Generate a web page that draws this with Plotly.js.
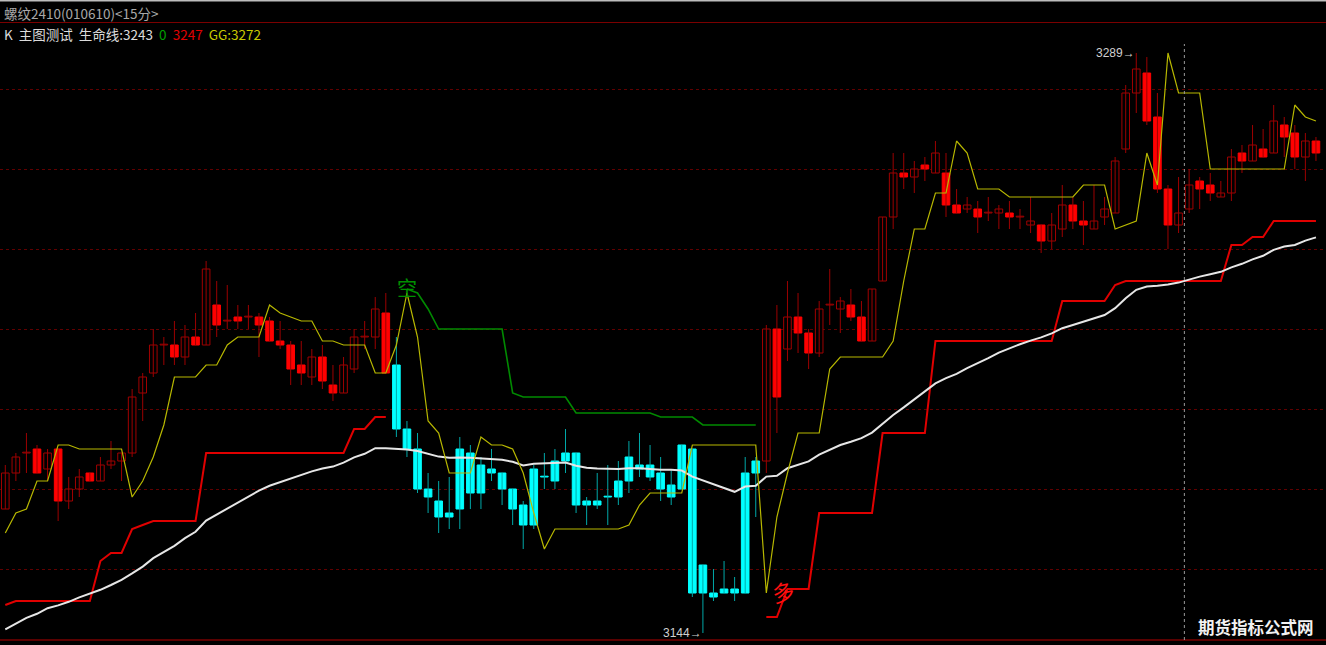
<!DOCTYPE html>
<html><head><meta charset="utf-8">
<script src="https://cdn.plot.ly/plotly-3.0.1.min.js"></script>
<style>html,body{margin:0;padding:0;background:#000;overflow:hidden}</style>
</head><body><div id="chart" style="width:1326px;height:645px"></div>
<script>
// ---- data (15-min bars, rebar 2410) ----
const openP = [
3175,3184,3189,3190,3185,3190,3177,3180,3184,3182,
3186,3187,3189,3204,3209,3216,3216,3213,3218,3216,
3226,3222,3223,3223,3223,3222,3217,3216,3211,3208,
3213,3206,3204,3210,3218,3218,3224,3211,3195,3190,
3180,3177,3174,3175,3189,3179,3185,3184,3180,3176,
3171,3183,3182,3187,3189,3177,3176,3178,3178,3182,
3186,3186,3184,3181,3180,3190,3161,3154,3155,3155,
3154,3184,3187,3220,3215,3223,3219,3214,3226,3225,
3226,3223,3217,3232,3248,3259,3258,3261,3259,3259,
3251,3250,3250,3249,3249,3249,3248,3246,3246,3242,
3245,3251,3247,3245,3248,3249,3265,3279,3284,3273,
3255,3246,3250,3257,3256,3253,3254,3264,3262,3265,
3264,3271,3269,3263,3267];
const highP = [
3186,3189,3194,3191,3190,3190,3183,3185,3184,3188,
3192,3189,3205,3209,3220,3218,3222,3221,3224,3237,
3232,3231,3226,3226,3224,3223,3222,3217,3217,3215,
3216,3211,3213,3220,3222,3228,3229,3218,3197,3194,
3184,3182,3183,3193,3191,3188,3190,3184,3180,3177,
3186,3189,3190,3195,3189,3178,3184,3186,3187,3192,
3194,3191,3188,3185,3191,3190,3161,3160,3162,3158,
3188,3188,3221,3226,3232,3229,3220,3227,3235,3228,
3230,3227,3230,3248,3264,3264,3262,3263,3267,3264,
3255,3253,3252,3253,3251,3252,3250,3253,3246,3249,
3256,3253,3252,3256,3253,3263,3281,3289,3288,3279,
3256,3258,3260,3258,3259,3257,3265,3266,3271,3270,
3276,3273,3271,3269,3268];
const lowP = [
3175,3182,3184,3184,3182,3172,3175,3178,3182,3182,
3185,3182,3188,3197,3208,3211,3211,3211,3216,3216,
3218,3220,3220,3220,3213,3217,3215,3206,3206,3206,
3205,3202,3204,3209,3215,3215,3209,3193,3188,3179,
3174,3169,3170,3170,3175,3175,3182,3176,3171,3165,
3170,3180,3180,3184,3174,3171,3175,3171,3176,3179,
3183,3182,3177,3176,3180,3153,3144,3152,3154,3152,
3154,3173,3184,3194,3212,3214,3210,3213,3221,3219,
3222,3217,3217,3232,3245,3255,3254,3257,3259,3248,
3249,3249,3244,3247,3245,3245,3245,3244,3239,3240,
3243,3245,3241,3245,3246,3249,3264,3274,3271,3254,
3240,3244,3249,3250,3252,3253,3252,3259,3262,3263,
3264,3263,3260,3257,3262];
const closeP = [
3184,3188,3189,3184,3189,3177,3180,3183,3182,3186,
3187,3189,3203,3208,3216,3216,3213,3218,3216,3235,
3221,3222,3222,3223,3221,3217,3216,3210,3209,3213,
3207,3204,3211,3218,3218,3225,3209,3195,3190,3180,
3178,3173,3173,3190,3179,3186,3184,3180,3175,3171,
3185,3183,3187,3189,3176,3176,3177,3178,3182,3188,
3185,3183,3180,3178,3191,3154,3154,3153,3154,3154,
3184,3187,3220,3203,3223,3219,3214,3225,3226,3227,
3223,3217,3230,3248,3259,3258,3260,3260,3264,3251,
3249,3251,3248,3249,3250,3248,3248,3247,3242,3246,
3251,3247,3246,3247,3250,3262,3279,3285,3272,3255,
3246,3249,3256,3255,3254,3254,3263,3262,3266,3263,
3272,3268,3263,3267,3264];
// 生命线 (white)
const lifeLine = [
3144.9,3146.3,3147.8,3148.8,3150.2,3150.9,3151.8,3152.9,3153.8,3154.8,
3156.0,3157.3,3158.9,3160.6,3162.7,3164.3,3165.8,3167.7,3169.3,3172.1,
3173.6,3175.1,3176.7,3178.3,3179.6,3180.8,3181.7,3182.5,3183.4,3184.4,
3185.1,3185.6,3186.6,3187.9,3188.8,3190.2,3190.2,3190.0,3189.9,3189.5,
3188.8,3188.1,3187.8,3187.9,3187.8,3187.6,3187.4,3187.3,3186.8,3185.9,
3186.3,3186.4,3186.4,3186.6,3185.8,3185.3,3185.1,3185.0,3185.0,3185.2,
3185.2,3185.0,3184.8,3184.8,3184.6,3183.1,3182.1,3181.2,3180.3,3179.3,
3180.6,3180.8,3183.1,3183.3,3185.2,3186.0,3186.9,3188.6,3189.8,3191.0,
3191.8,3192.7,3194.1,3196.4,3198.5,3200.4,3202.4,3204.3,3206.4,3207.7,
3208.8,3210.2,3211.4,3212.7,3214.1,3215.2,3216.2,3217.1,3217.9,3218.9,
3220.2,3221.0,3221.8,3222.7,3223.5,3225.2,3227.7,3229.8,3230.6,3230.8,
3231.1,3231.6,3232.4,3233.1,3233.7,3234.3,3235.4,3236.3,3237.4,3238.3,
3239.8,3240.6,3241.0,3242.1,3242.9];
// long stop line (red)
const stopLine = [
3151,3152,3152,3152,3152,3152,3152,3152,3152,3162,
3164,3164,3170,3171,3172,3172,3172,3172,3172,3189,
3189,3189,3189,3189,3189,3189,3189,3189,3189,3189,
3189,3189,3189,3195,3195,3198,3198,null,null,null,
null,null,null,null,null,null,null,null,null,null,
null,null,null,null,null,null,null,null,null,null,
null,null,null,null,null,null,null,null,null,null,
null,null,3148,3148,3155,3155,3155,3174,3174,3174,
3174,3174,3174,3194,3194,3194,3194,3194,3217,3217,
3217,3217,3217,3217,3217,3217,3217,3217,3217,3217,
3227,3227,3227,3227,3227,3231,3232,3232,3232,3232,
3232,3232,3232,3232,3232,3232,3241,3241,3243,3243,
3247,3247,3247,3247,3247];
// short stop line (green)
const shortLine = [
null,null,null,null,null,null,null,null,null,null,
null,null,null,null,null,null,null,null,null,null,
null,null,null,null,null,null,null,null,null,null,
null,null,null,null,null,null,null,null,3230,3229,
3225,3220,3220,3220,3220,3220,3220,3220,3204,3203,
3203,3203,3203,3203,3199,3199,3199,3199,3199,3199,
3199,3199,3198,3198,3198,3198,3196,3196,3196,3196,
3196,3196,null,null,null,null,null,null,null,null,
null,null,null,null,null,null,null,null,null,null,
null,null,null,null,null,null,null,null,null,null,
null,null,null,null,null,null,null,null,null,null,
null,null,null,null,null,null,null,null,null,null,
null,null,null,null,null];
// GG (yellow)
const ggLine = [
3169,3174,3175,3182,3182,3191,3191,3190,3190,3190,
3190,3190,3178,3182,3188,3196,3208,3208,3208,3211,
3211,3216,3218,3218,3218,3226,3224,3223,3222,3222,
3217,3217,3216,3216,3216,3209,3209,3216,3229,3218,
3197,3194,3184,3184,3184,3193,3191,3191,3190,3184,
3174,3165,3170,3170,3170,3170,3170,3170,3170,3171,
3176,3179,3179,3179,3179,3191,3191,3191,3191,3191,
3191,3191,3154,3173,3184,3194,3194,3194,3210,3213,
3213,3213,3213,3213,3217,3232,3245,3245,3254,3254,
3267,3264,3255,3255,3255,3253,3253,3253,3253,3253,
3253,3253,3256,3256,3256,3245,3246,3247,3264,3256,
3289,3279,3279,3279,3260,3260,3260,3260,3260,3260,
3260,3260,3276,3273,3272];
const gridLevels = [3160,3180,3200,3220,3240,3260,3280];
const chartTitle = '螺纹2410(010610)&lt;15分&gt;';
const cursorIndex = 111.55;

// ---- build ----
const n = openP.length;
const idx = Array.from({length: n}, (_, i) => i);
const groups = {up: [], down: [], cyan: []};
idx.forEach(i => {
  if (stopLine[i] === null) groups.cyan.push(i);
  else if (closeP[i] >= openP[i]) groups.up.push(i);
  else groups.down.push(i);
});
function wickTrace(list, color) {
  const x = [], y = [];
  list.forEach(i => { x.push(i, i, null); y.push(lowP[i], highP[i], null); });
  return {type: 'scatter', mode: 'lines', x, y, line: {color, width: 1}, hoverinfo: 'skip'};
}
function bodyTrace(list, fill, lineColor) {
  return {
    type: 'bar', x: list,
    base: list.map(i => Math.min(openP[i], closeP[i])),
    y: list.map(i => Math.max(Math.abs(closeP[i] - openP[i]), 0.2)),
    width: 0.72,
    marker: {color: fill, line: {color: lineColor, width: 1}},
    hoverinfo: 'skip'
  };
}
function lineTrace(vals, color, width) {
  return {type: 'scatter', mode: 'lines', x: idx, y: vals, line: {color, width}, hoverinfo: 'skip', connectgaps: false};
}
const traces = [
  wickTrace(groups.up.concat(groups.down), '#9c0000'),
  wickTrace(groups.cyan, '#00a8a8'),
  bodyTrace(groups.up, '#000000', '#a00000'),
  bodyTrace(groups.down, '#ff0000', '#ff0000'),
  bodyTrace(groups.cyan, '#00ffff', '#00ffff'),
  lineTrace(stopLine, '#e00000', 2),
  lineTrace(lifeLine, '#e6e6e6', 2),
  lineTrace(shortLine, '#008a00', 1.6),
  lineTrace(ggLine, '#b8b800', 1.2)
];

const last = a => a[a.length - 1];
const fmt = v => (v === null || v === undefined) ? 0 : Math.round(v);
let hiIdx = 0, loIdx = 0;
idx.forEach(i => { if (highP[i] > highP[hiIdx]) hiIdx = i; if (lowP[i] < lowP[loIdx]) loIdx = i; });
const greenStart = shortLine.findIndex(v => v !== null);
const redRestart = stopLine.findIndex((v, i) => i > greenStart && v !== null);

const W = 1326, H = 645;
const py = px => 1 - px / H;
const cjk = '"Noto Sans CJK SC", "Noto Sans", sans-serif';
const sp = '\u00a0\u00a0';

const layout = {
  width: W, height: H,
  margin: {l: 0, r: 0, t: 0, b: 0, pad: 0},
  paper_bgcolor: '#000000', plot_bgcolor: '#000000',
  showlegend: false, barmode: 'overlay',
  xaxis: {range: [-0.501, 124.95], showgrid: false, zeroline: false, showticklabels: false, showline: false, fixedrange: true},
  yaxis: {range: [3141, 3302.25], tickvals: gridLevels, showticklabels: false, showgrid: true,
          gridcolor: '#600000', griddash: 'dot', gridwidth: 1, zeroline: false, showline: false, fixedrange: true},
  shapes: [
    {type: 'line', xref: 'paper', yref: 'paper', x0: 0, x1: 1, y0: py(0.5), y1: py(0.5), line: {color: '#bdbdbd', width: 2}},
    {type: 'line', xref: 'paper', yref: 'paper', x0: 0, x1: 1, y0: py(22.5), y1: py(22.5), line: {color: '#7a0000', width: 1}},
    {type: 'line', xref: 'paper', yref: 'paper', x0: 0, x1: 1, y0: py(640), y1: py(640), line: {color: '#5a0000', width: 2}},
    {type: 'line', xref: 'x', yref: 'paper', x0: cursorIndex, x1: cursorIndex, y0: py(640), y1: py(44), line: {color: '#9a9a9a', width: 1, dash: 'dot'}}
  ],
  annotations: [
    {xref: 'paper', yref: 'paper', x: 2 / W, y: py(12.5), xanchor: 'left', yanchor: 'middle', showarrow: false,
     text: chartTitle, font: {family: cjk, size: 13.5, color: '#a8a8a8'}},
    {xref: 'paper', yref: 'paper', x: 2 / W, y: py(33.5), xanchor: 'left', yanchor: 'middle', showarrow: false,
     text: 'K' + sp + '主图测试' + sp + '生命线:' + fmt(last(lifeLine)) +
           sp + '<span style="color:#00a000">' + fmt(last(shortLine)) + '</span>' +
           sp + '<span style="color:#e00000">' + fmt(last(stopLine)) + '</span>' +
           sp + '<span style="color:#c8c800">GG:' + fmt(last(ggLine)) + '</span>',
     font: {family: cjk, size: 13.5, color: '#dcdcdc'}},
    {xref: 'x', yref: 'y', x: hiIdx, y: highP[hiIdx], xanchor: 'right', yanchor: 'middle', showarrow: false, xshift: 1,
     text: highP[hiIdx] + '→', font: {family: 'Liberation Sans, Arial, sans-serif', size: 12, color: '#d0d0d0'}},
    {xref: 'x', yref: 'y', x: loIdx, y: lowP[loIdx], xanchor: 'right', yanchor: 'middle', showarrow: false, xshift: 1,
     text: lowP[loIdx] + '→', font: {family: 'Liberation Sans, Arial, sans-serif', size: 12, color: '#d0d0d0'}},
    {xref: 'x', yref: 'y', x: greenStart, y: shortLine[greenStart] + 0.5, xanchor: 'center', yanchor: 'middle', showarrow: false,
     text: '空', font: {family: cjk, size: 20, color: '#009000'}},
    {xref: 'x', yref: 'y', x: redRestart + 1.6, y: ggLine[redRestart] + 0.5, xanchor: 'center', yanchor: 'middle', showarrow: false,
     text: '多', textangle: -12, font: {family: cjk, size: 22, color: '#ff1010'}},
    {xref: 'paper', yref: 'paper', x: 1316 / W, y: py(627), xanchor: 'right', yanchor: 'middle', showarrow: false,
     text: '<b>期货指标公式网</b>', font: {family: cjk, size: 16.5, color: '#f2f2f2'}}
  ]
};
Plotly.newPlot('chart', traces, layout, {staticPlot: true, displayModeBar: false});
</script>
</body></html>
